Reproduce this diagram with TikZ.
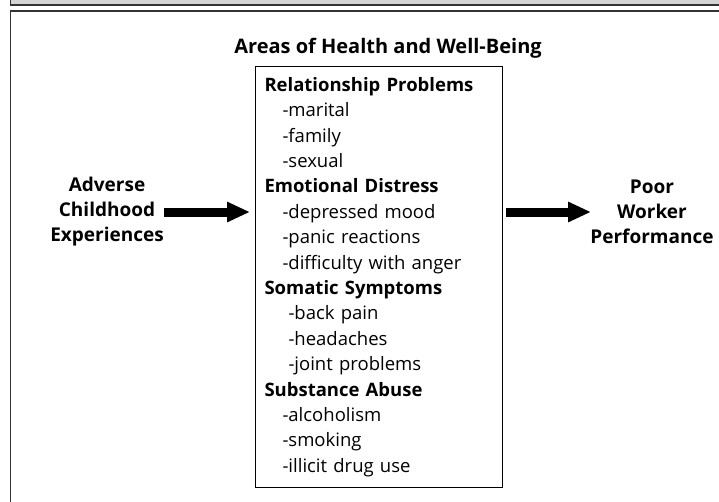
\documentclass[tikz,border=0pt]{standalone}
\usepackage{fontspec}
\setmainfont{Open Sans}
\usetikzlibrary{arrows.meta,positioning}

\begin{document}
\begin{tikzpicture}[x=1pt,y=-1pt,
  label/.style={font=\bfseries\fontsize{19}{25}\selectfont,align=center,inner sep=0pt},
  listbox/.style={draw,line width=1pt,anchor=north west,minimum width=247pt,minimum height=421pt,
    text width=229pt,inner xsep=9pt,inner ysep=0pt,align=left,font=\fontsize{18.5}{25.4}\selectfont},
  fatarrow/.style={line width=9pt,-{Triangle[length=23pt,width=19pt]}}]
\useasboundingbox (0,0) rectangle (719,501);
% page strip and frame
\fill[black!17] (10,-2) rectangle (721,5);
\draw[black!80,line width=1.5pt] (10.5,-2) -- (10.5,5) -- (721,5);
\draw[black!80,line width=1.5pt] (721,11) -- (10.5,11) -- (10.5,503);
% middle box
\node[label,font=\bfseries\fontsize{20}{25}\selectfont] (title) at (388,48) {Areas of Health and Well-Being};
\node[listbox] (areas) at (255,66) {%
\textbf{Relationship Problems}\\
\hspace{18pt}-marital\\
\hspace{18pt}-family\\
\hspace{18pt}-sexual\\
\textbf{Emotional Distress}\\
\hspace{18pt}-depressed mood\\
\hspace{18pt}-panic reactions\\
\hspace{18pt}-difficulty with anger\\
\textbf{Somatic Symptoms}\\
\hspace{24pt}-back pain\\
\hspace{24pt}-headaches\\
\hspace{24pt}-joint problems\\
\textbf{Substance Abuse}\\
\hspace{18pt}-alcoholism\\
\hspace{18pt}-smoking\\
\hspace{18pt}-illicit drug use};
% sides
\node[label] (adverse) at (107,212) {Adverse\\Childhood\\Experiences};
\node[label] (poor) at (652,212) {Poor\\Worker\\Performance};
\draw[fatarrow] ([xshift=-91pt]adverse.east -| areas.west) -- ([xshift=-5pt]adverse.east -| areas.west);
\draw[fatarrow] ([xshift=3pt]poor.west -| areas.east) -- ([xshift=88pt]poor.west -| areas.east);
\end{tikzpicture}
\end{document}
